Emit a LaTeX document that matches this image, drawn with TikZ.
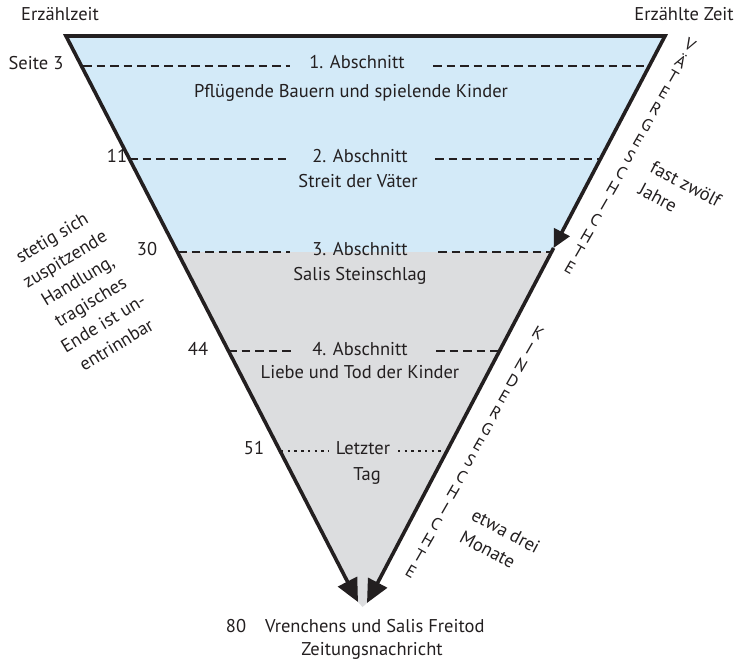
\documentclass[tikz,border=0pt]{standalone}
\usepackage{fontspec}
\setmainfont{PT Sans}
\usetikzlibrary{arrows.meta,calc}
\definecolor{skyfill}{RGB}{211,234,248}
\definecolor{greyfill}{RGB}{220,221,223}
\definecolor{ink}{RGB}{35,31,32}
\begin{document}
\begin{tikzpicture}[x=1pt,y=-1pt,
  every node/.style={inner sep=0pt,text=ink},
  txt/.style={font=\fontsize{18.5}{25}\selectfont},
  edge/.style={draw=ink,line width=3.6pt,line join=miter},
  cut/.style={draw=ink,line width=2.6pt,dash pattern=on 8.5pt off 5pt},
  dotcut/.style={draw=ink,line width=2.4pt,dash pattern=on 2.4pt off 4.3pt},
  stack/.style={font=\fontsize{17}{17}\selectfont,rotate=-30},
  midtip/.tip={Triangle[length=18pt,width=17pt]},
  endtip/.tip={Triangle[length=23pt,width=21pt]}]
\useasboundingbox (0,0) rectangle (739,661);
% corners
\coordinate (A) at (66,36);
\coordinate (B) at (665,36);
\coordinate (Lt) at (358,602);
\coordinate (Rt) at (367,603);
\coordinate (M) at (553.6,248);
\coordinate (PL) at (177.4,252);
\coordinate (PR) at (551.5,252);
\coordinate (Ap) at (362.6,607);
% fills
\fill[skyfill] (A) -- (B) -- (PR) -- (PL) -- cycle;
\fill[greyfill] (PL) -- (PR) -- (Rt) -- (Ap) -- (Lt) -- cycle;
% section lines
\coordinate (d1a) at (83,66);  \coordinate (d1b) at (290,66);
\coordinate (d1c) at (433,66); \coordinate (d1d) at (649,66);
\coordinate (d2a) at (129,159); \coordinate (d2b) at (290,159);
\coordinate (d2c) at (435,159); \coordinate (d2d) at (600,159);
\coordinate (d3a) at (178,252); \coordinate (d3b) at (290,252);
\coordinate (d3c) at (438,252); \coordinate (d3d) at (551,252);
\coordinate (d4a) at (228,351); \coordinate (d4b) at (293,351);
\coordinate (d4c) at (436,351); \coordinate (d4d) at (499,351);
\coordinate (d5a) at (281,451); \coordinate (d5b) at (328,451);
\coordinate (d5c) at (398,451); \coordinate (d5d) at (444,451);
\draw[cut] (d1a) -- (d1b);  \draw[cut] (d1c) -- (d1d);
\draw[cut] (d2a) -- (d2b);  \draw[cut] (d2c) -- (d2d);
\draw[cut] (d3a) -- (d3b);  \draw[cut] (d3c) -- (d3d);
\draw[cut] (d4a) -- (d4b);  \draw[cut] (d4c) -- (d4d);
\draw[dotcut] (d5a) -- (d5b);  \draw[dotcut] (d5c) -- (d5d);
% outline with arrows
\draw[edge,{midtip}-{endtip}] (M) -- (B) -- (A) -- (Lt);
\draw[edge,-{endtip}] (M) -- (Rt);
% headings
\node[txt,anchor=base] (ez) at (60,21) {Erzählzeit};
\node[txt,anchor=base] (ezt) at (684,21) {Erzählte Zeit};
% page numbers
\node[txt,anchor=base] (p3) at (36,70) {Seite 3};
\node[txt,anchor=base] (p11) at (117,162) {11};
\node[txt,anchor=base] (p30) at (147,255) {30};
\node[txt,anchor=base] (p44) at (198,355) {44};
\node[txt,anchor=base] (p51) at (254,454) {51};
\node[txt,anchor=base] (p80) at (236,632) {80};
% sections
\node[txt,anchor=base] (s1) at (357,69) {1. Abschnitt};
\node[txt,anchor=base] (s1b) at (351,97) {Pflügende Bauern und spielende Kinder};
\node[txt,anchor=base] (s2) at (360,162) {2. Abschnitt};
\node[txt,anchor=base] (s2b) at (358,187) {Streit der Väter};
\node[txt,anchor=base] (s3) at (360,255) {3. Abschnitt};
\node[txt,anchor=base] (s3b) at (360,280) {Salis Steinschlag};
\node[txt,anchor=base] (s4) at (360,355) {4. Abschnitt};
\node[txt,anchor=base] (s4b) at (360,378) {Liebe und Tod der Kinder};
\node[txt,anchor=base] (s5) at (363,454) {Letzter};
\node[txt,anchor=base] (s5b) at (367,480) {Tag};
\node[txt,anchor=base west] (end) at (265,632) {Vrenchens und Salis Freitod};
\node[txt,anchor=base] (endb) at (372,655) {Zeitungsnachricht};
% side notes
\node[txt,align=center,rotate=31] (note) at (84,291)
  {stetig sich\\zuspitzende\\Handlung,\\tragisches\\Ende ist un-\\entrinnbar};
\node[txt,align=left,rotate=-28] (fz) at (680,195) {fast zwölf\\Jahre};
\node[txt,align=left,rotate=-28] (ed) at (500,542) {etwa drei\\Monate};
% stacked words
\coordinate (vs) at (690,45);
\coordinate (ve) at (570,268);
\foreach \l [count=\i from 0] in {V,Ä,T,E,R,G,E,S,C,H,I,C,H,T,E}
  \node[stack] (v\i) at ($(vs)!\i/14!(ve)$) {\l};
\coordinate (ks) at (538,333);
\coordinate (ke) at (411,572);
\foreach \l [count=\i from 0] in {K,I,N,D,E,R,G,E,S,C,H,I,C,H,T,E}
  \node[stack] (k\i) at ($(ks)!\i/15!(ke)$) {\l};
\end{tikzpicture}
\end{document}
